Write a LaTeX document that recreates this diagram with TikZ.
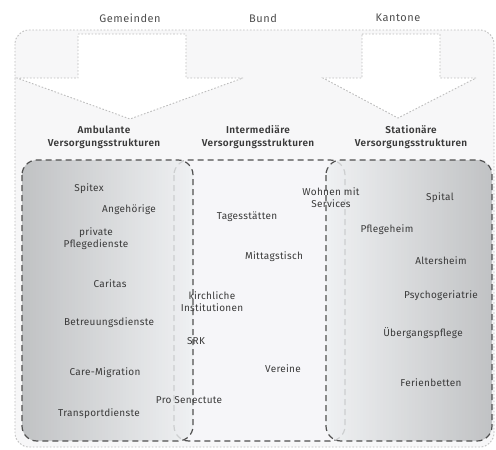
\documentclass[tikz,border=0pt]{standalone}
\usepackage{fontspec}
\setmainfont{Fira Sans}
\newfontfamily\bodyfont[LetterSpace=3]{Fira Sans}
\newfontfamily\boldfont[LetterSpace=4]{Fira Sans SemiBold}
\newfontfamily\topfont[LetterSpace=5]{Fira Sans}
\usetikzlibrary{shadings}
\definecolor{txt}{HTML}{3A3A3A}
\definecolor{dashc}{HTML}{505050}
\definecolor{dotc}{HTML}{BDBDBD}
\definecolor{outerfill}{HTML}{F7F7F8}
\definecolor{midfill}{HTML}{F6F6F9}
\definecolor{gdark}{HTML}{B5B7B9}
\definecolor{glight}{HTML}{EEF0F2}
\tikzset{
  lbl/.style={text=txt, font=\bodyfont\fontsize{10}{11.8}\selectfont, inner sep=0pt, align=center},
  sublbl/.style={text=txt, font=\boldfont\fontsize{10}{12.8}\selectfont, inner sep=0pt, align=center},
  toplbl/.style={text=txt!90, font=\topfont\fontsize{11}{12}\selectfont, inner sep=0pt},
  outerbox/.style={draw=dotc, line width=0.9pt, dash pattern=on 1.6pt off 1.8pt, fill=outerfill, rounded corners=14pt},
  arrowshape/.style={draw=dotc, line width=0.9pt, dash pattern=on 1.6pt off 1.8pt, fill=white},
  darkdash/.style={draw=dashc, line width=1.2pt, dash pattern=on 6pt off 4pt, rounded corners=15pt},
}
\begin{document}
\begin{tikzpicture}[x=1pt,y=-1pt]
\useasboundingbox (0,0) rectangle (496,450);
\fill[white] (0,0) rectangle (496,450);
% outer box
\draw[outerbox] (15,30) rectangle (494,447);
% arrows
\draw[arrowshape] (78,34) -- (186,34) -- (186,78) -- (243,78) -- (130,119) -- (17,78) -- (78,78) -- cycle;
\draw[arrowshape] (362,34) -- (440,34) -- (440,78) -- (476,78) -- (398,118) -- (323,78) -- (362,78) -- cycle;
% top labels
\node[toplbl] (gem) at (130,18) {Gemeinden};
\node[toplbl] (bund) at (263,18) {Bund};
\node[toplbl] (kan) at (398,18) {Kantone};
% sub headings
\node[sublbl] (amb) at (104,137) {Ambulante\\Versorgungsstrukturen};
\node[sublbl] (int) at (258,137) {Intermediäre\\Versorgungsstrukturen};
\node[sublbl] (sta) at (411,137) {Stationäre\\Versorgungsstrukturen};
% middle box
\draw[darkdash, fill=midfill] (174,160) rectangle (345,441);
% left and right boxes
\shade[left color=gdark, right color=glight, fill opacity=0.82, rounded corners=15pt] (22,160) rectangle (193,441);
\shade[left color=glight, right color=gdark, fill opacity=0.82, rounded corners=15pt] (326,160) rectangle (492,441);
\draw[darkdash] (22,160) rectangle (193,441);
\draw[darkdash] (326,160) rectangle (492,441);
% left texts
\node[lbl] (spitex) at (89,189) {Spitex};
\node[lbl] (angeh) at (129,210) {Angehörige};
\node[lbl] (priv) at (96,239) {private\\Pflegedienste};
\node[lbl] (caritas) at (110,284) {Caritas};
\node[lbl] (betr) at (109,323) {Betreuungsdienste};
\node[lbl] (care) at (105,373) {Care-Migration};
\node[lbl] (trans) at (99,414) {Transportdienste};
% middle texts
\node[lbl] (wohnen) at (331,198) {Wohnen mit\\Services};
\node[lbl] (tages) at (247,217) {Tagesstätten};
\node[lbl] (mittag) at (274,257) {Mittagstisch};
\node[lbl] (kirch) at (212,302) {kirchliche\\Institutionen};
\node[lbl] (srk) at (196,341) {SRK};
\node[lbl] (vereine) at (283,369) {Vereine};
\node[lbl] (pro) at (189,400) {Pro Senectute};
% right texts
\node[lbl] (spital) at (440,198) {Spital};
\node[lbl] (pflege) at (387,230) {Pflegeheim};
\node[lbl] (alters) at (441,261) {Altersheim};
\node[lbl] (psych) at (441,296) {Psychogeriatrie};
\node[lbl] (ueber) at (423,333) {Übergangspflege};
\node[lbl] (ferien) at (431,383) {Ferienbetten};
\end{tikzpicture}
\end{document}
